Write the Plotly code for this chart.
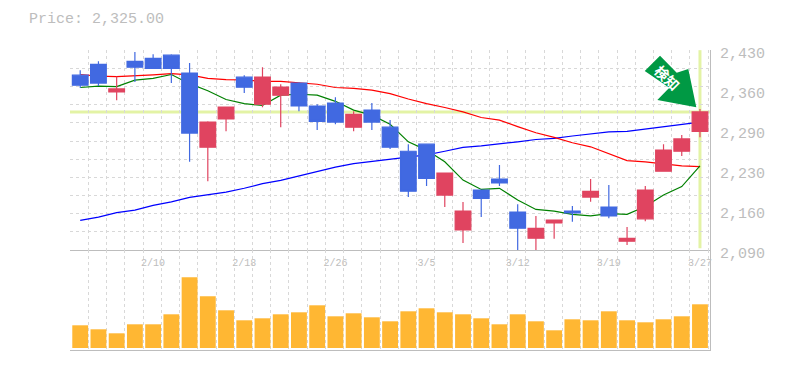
import plotly.graph_objects as go

dates = ["2/10", "2/18", "2/26", "3/5", "3/12", "3/19", "3/27"]
date_index = [4, 9, 14, 19, 24, 29, 34]
price_tick_values = [2430, 2362, 2294, 2226, 2158, 2090]
price_tick_labels = ["2,430", "2,360", "2,290", "2,230", "2,160", "2,090"]
current_price = 2325

index = list(range(35))
opens = [2387.5, 2406, 2359, 2411, 2416, 2421.5, 2391, 2265, 2313, 2384, 2338, 2353.5, 2374, 2335, 2340, 2299, 2328, 2299,
         2258, 2270, 2183.5, 2124, 2192, 2210.7, 2154.6, 2110, 2136, 2156, 2180, 2163, 2105, 2143, 2224, 2258, 2292]
highs = [2396, 2411, 2385, 2427, 2423, 2423, 2408, 2309, 2333, 2387.5, 2401, 2372, 2375.6, 2338, 2350, 2326, 2340, 2311,
         2270, 2270, 2221, 2171.6, 2192, 2234.5, 2168, 2148, 2141, 2165, 2211, 2200.5, 2129, 2199, 2270, 2285.5, 2330]
lows = [2366, 2369, 2345, 2376, 2399, 2374, 2240, 2207, 2292, 2357, 2333, 2299, 2326, 2294, 2304, 2292, 2294, 2262,
        2180, 2199, 2163, 2102, 2146, 2199, 2090, 2090, 2109, 2138, 2172, 2144, 2098.5, 2139, 2224, 2250, 2282]
closes = [2370.5, 2374, 2364, 2401, 2399, 2399, 2289, 2307.6, 2333, 2367, 2384, 2367, 2335, 2309, 2307.6, 2321, 2307.6, 2265,
          2190, 2212, 2221, 2156, 2178, 2204, 2127, 2127, 2141, 2153, 2190, 2148, 2110, 2192, 2260, 2279, 2325]
ma_short = [2366.5, 2369, 2368, 2379, 2382, 2388.6, 2373, 2361, 2346, 2339, 2336, 2353.5, 2355, 2353.5, 2343, 2328, 2319.5, 2304,
            2274, 2260, 2240, 2209, 2193, 2195, 2175, 2159, 2156, 2150.6, 2148, 2152, 2150.6, 2164, 2183.5, 2198, 2233]
ma_mid = [2388.6, 2386, 2385, 2386, 2388, 2390, 2388, 2382, 2380, 2379.5, 2377, 2377, 2374.5, 2372, 2366.5, 2365, 2362, 2356,
          2347, 2339, 2332.5, 2325, 2315.5, 2311, 2300, 2289.5, 2281.5, 2272.5, 2265.6, 2254, 2242, 2240, 2237, 2233, 2232]
ma_long = [2140.4, 2146, 2153.5, 2158, 2166, 2172, 2179.5, 2183.5, 2188.6, 2195, 2203, 2208.4, 2216, 2223, 2231, 2237, 2241, 2245,
           2248, 2252, 2258, 2264.5, 2267, 2270, 2274, 2278, 2280, 2284, 2287, 2291, 2292, 2296, 2300, 2304, 2307.6]
volume = [22700, 18700, 14700, 23700, 23700, 33700, 70700, 51700, 37700, 27700, 29700, 33700, 35700, 42700, 31700, 34700, 30700, 26700,
          36700, 39700, 35700, 33700, 29700, 23700, 33700, 26700, 17700, 28700, 27700, 36700, 27700, 25700, 28700, 31700, 43700]

GRAY = "#bdbdbd"
GRID = "#d8d8d8"
FONT = "Liberation Mono"
W, H, L, R, T, B = 785, 370, 70, 75, 30, 5
XR = [-0.56, 34.55]
YR = [2090, 2430.3]
DASH = "3px,3px"


def px(x):
    return (x - L) / (W - L - R)


def py(y):
    return (H - B - y) / (H - T - B)


fig = go.Figure()
for vals, col in ((ma_long, "#0000ff"), (ma_mid, "#ff0000"), (ma_short, "#008000")):
    fig.add_trace(go.Scatter(x=index, y=vals, mode="lines", line=dict(color=col, width=1.2), yaxis="y", xaxis="x", showlegend=False))
fig.add_trace(go.Candlestick(
    x=index, open=opens, high=highs, low=lows, close=closes, xaxis="x", yaxis="y4",
    increasing=dict(line=dict(color="#e04460", width=1.2), fillcolor="#e04460"),
    decreasing=dict(line=dict(color="#4169e1", width=1.2), fillcolor="#4169e1"),
    whiskerwidth=0, showlegend=False))
fig.add_trace(go.Bar(x=index, y=volume, xaxis="x2", yaxis="y2", marker=dict(color="#ffb733", line_width=0), width=0.87, showlegend=False))
# carrier for the right-hand price labels, which sit 3px below their gridlines
fig.add_trace(go.Scatter(x=[0] * len(price_tick_values), y=price_tick_values, xaxis="x3", yaxis="y3", mode="markers", marker=dict(opacity=0), showlegend=False))

x_common = dict(range=XR, showgrid=False, zeroline=False, tickvals=date_index, ticktext=dates,
                showline=True, linecolor=GRAY, linewidth=1,
                tickfont=dict(family=FONT, size=10, color=GRAY), ticks="",
                minor=dict(tick0=-0.55, dtick=1, showgrid=True, gridcolor=GRID, griddash=DASH, gridwidth=1, ticks=""))

fig.update_layout(
    width=W, height=H, margin=dict(l=L, r=R, t=T, b=B, pad=0),
    paper_bgcolor="#ffffff", plot_bgcolor="rgba(0,0,0,0)", showlegend=False, boxgap=0.14, boxgroupgap=0,
    hovermode=False,
    xaxis=dict(domain=[0, 1], anchor="y", rangeslider=dict(visible=False), ticklabelstandoff=3, **x_common),
    xaxis2=dict(domain=[0, 1], anchor="y2", **{**x_common, "tickvals": [], "ticktext": []}),
    xaxis3=dict(domain=[0, 1], anchor="y3", range=XR, visible=False),
    yaxis=dict(domain=[py(250), py(50)], anchor="x", range=YR, side="right", tick0=2090, dtick=340 / 11,
               showticklabels=False, ticks="", gridcolor=GRID, griddash=DASH, gridwidth=1, zeroline=False,
               showline=True, linecolor=GRAY, linewidth=1),
    yaxis4=dict(overlaying="y", range=YR, side="right", showticklabels=False, ticks="", showgrid=False, zeroline=False, anchor="x"),
    yaxis2=dict(domain=[py(350), py(250)], anchor="x2", range=[-2000, 98000], side="right", showticklabels=False, ticks="",
                showgrid=False, zeroline=False, showline=True, linecolor=GRAY, linewidth=1),
    yaxis3=dict(domain=[py(262), py(41)], anchor="x3", range=[2074.7, 2450.4],
                side="right", tickvals=price_tick_values, ticktext=price_tick_labels, showgrid=False, zeroline=False, showline=False, ticks="",
                tickfont=dict(family=FONT, size=15, color=GRAY), ticklabelstandoff=9),
    title=dict(text="Price: 2,325.00", x=29 / W, xanchor="left", y=1 - 18 / H, yanchor="middle",
               font=dict(family=FONT, size=15, color=GRAY)),
)

arrow = [(644.7, 71), (660, 55.7), (676.7, 72.7), (688.3, 69), (696.3, 107.3), (657.3, 100), (669.3, 87.7)]
path = "M" + " L".join(f"{px(a):.4f},{py(b):.4f}" for a, b in arrow) + " Z"
fig.update_layout(
    shapes=[
        dict(type="line", xref="x", yref="y", x0=XR[0], x1=XR[1], y0=current_price, y1=current_price,
             line=dict(color="#e3f3a5", width=3), layer="below"),
        dict(type="line", xref="x", yref="y", x0=34, x1=34, y0=2093, y1=2430, line=dict(color="#e3f3a5", width=3), layer="below"),
        dict(type="path", xref="paper", yref="paper", path=path, fillcolor="#009944", line=dict(width=0), layer="above"),
        dict(type="rect", xref="paper", yref="paper", x0=px(650), x1=px(682), y0=py(95), y1=py(63),
             line=dict(width=0), fillcolor="rgba(0,0,0,0)", layer="above",
             label=dict(text="<b>検知</b>", textangle=45, textposition="middle center",
                        font=dict(family="Noto Sans CJK JP", size=14, color="#ffffff"))),
    ],
)
fig.write_html("out.html", config={"displayModeBar": False},
               post_script="document.body.style.margin='0';")
